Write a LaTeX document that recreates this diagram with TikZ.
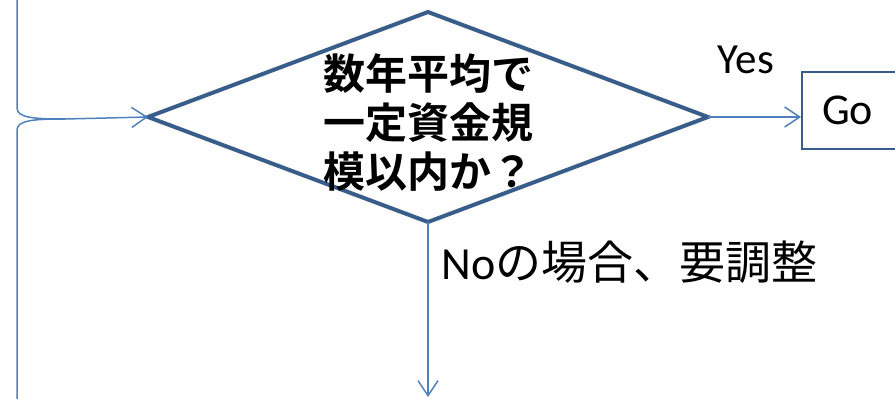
\documentclass[tikz,border=0pt]{standalone}
\usepackage{fontspec}
\setmainfont{Carlito}
\newfontfamily\jp{Noto Sans CJK JP}[BoldFont={Noto Sans CJK JP Bold}]
\usetikzlibrary{shapes,arrows.meta,calc}
\definecolor{flowline}{HTML}{4F81BD}
\definecolor{flowedge}{HTML}{385D8A}

\begin{document}
\begin{tikzpicture}[x=1pt,y=-1pt,
        link/.style={flowline,line width=1.5pt,-{Straight Barb[length=15pt,width=20pt,line width=1.5pt]}},
        decision/.style={diamond,draw=flowedge,line width=4pt,minimum width=560pt,minimum height=210pt,inner sep=0pt,outer sep=0pt},
        gobox/.style={rectangle,draw=flowedge,line width=2pt,minimum height=77pt,inner xsep=20pt,text width=80pt,align=left,font=\fontsize{44}{48}\selectfont}]
        \useasboundingbox (0,0) rectangle (895,399);
        \node[decision] (check) at (428,117) {};
        \node[align=left,font=\fontsize{42}{49}\selectfont\jp\bfseries] (ask) at (428,122) {数年平均で\\一定資金規\\模以内か？};
        \node[gobox,anchor=west] (go) at (801,110) {Go};
        \node[font=\fontsize{43}{48}\selectfont] (yes) at (746,60) {Yes};
        \node[anchor=west,font=\fontsize{46}{50}\selectfont] (no) at (438,262) {No{\jp の場合、要調整}};
        \coordinate (upper) at (17,0);
        \coordinate (lower) at (17,399);
        \coordinate (join) at (65,119);
        \coordinate (down) at (428,397);
        \draw[flowline,line width=1.5pt] (upper) -- (17,108) .. controls (17,118) and (35,119) .. (join);
        \draw[flowline,line width=1.5pt] (lower) -- (17,130) .. controls (17,120) and (35,119) .. (join);
        \draw[link] (join) -- (check.west);
        \draw[link] (check.east) -- (check.east -| go.west);
        \draw[link] (check.south) -- (down);
\end{tikzpicture}
\end{document}
